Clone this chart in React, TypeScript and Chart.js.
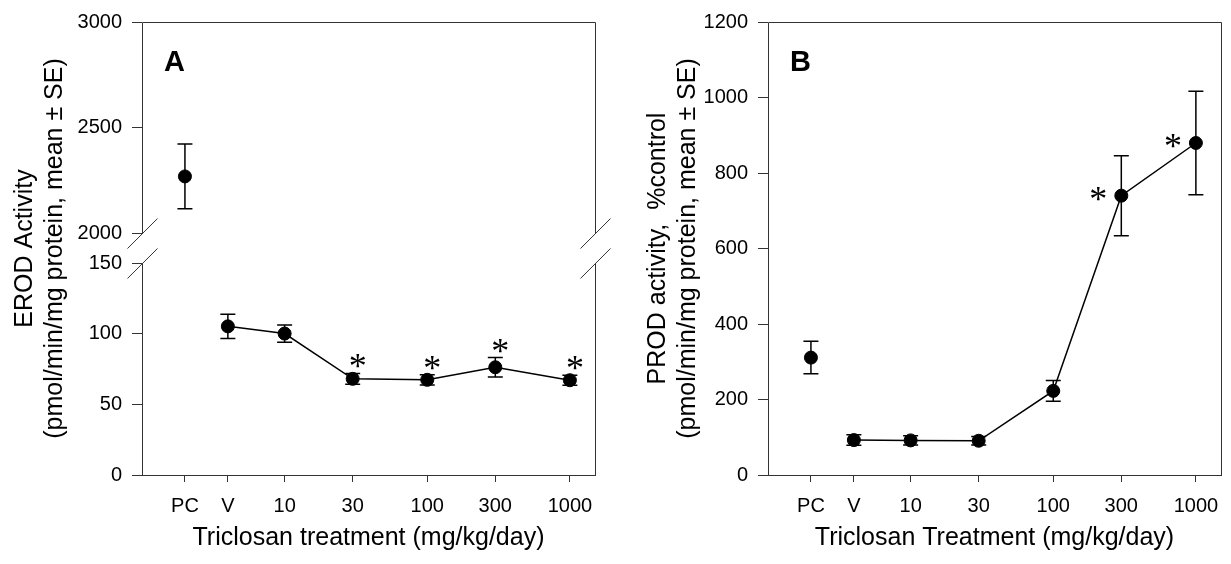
import React, { useEffect, useRef } from 'react';
import { Chart, registerables } from 'chart.js';

Chart.register(...registerables);

const FONT = "'Liberation Sans', Arial, Helvetica, sans-serif";
const STAR_FONT = "36px 'Liberation Serif', 'Times New Roman', serif";
const AXIS_COLOR = '#333';

// ---- data ----
const xTickValues = [2, 4, 10, 30, 100, 300, 1000];
const xTickLabels = ['PC', 'V', '10', '30', '100', '300', '1000'];
const doseX = [4, 10, 30, 100, 300, 1000];
const pcX = 2;

const erodPcMean = 2270;
const erodPcSe = 153;
const erodMean = [105.4, 100.3, 68.2, 67.5, 76.4, 67.2];
const erodSe = [8.6, 6.1, 3.8, 3.6, 6.9, 3.6];
const erodSig = [false, false, true, true, true, true];
const erodLowTicks = [0, 50, 100, 150];
const erodHighTicks = [2000, 2500, 3000];

const prodPcMean = 311;
const prodPcSe = 43;
const prodMean = [92.5, 91.7, 90.7, 222.8, 740, 879.5];
const prodSe = [14, 12.5, 11.5, 27.4, 106, 137];
const prodSig = [false, false, false, false, true, true];
const prodTicks = [0, 200, 400, 600, 800, 1000, 1200];

// ---- layout constants ----
const X_MIN = 1;
const X_MAX = 1500;
const X_AXIS_HEIGHT = 89;
const TOP_PAD = 21;
const BREAK_GAP_FRACTION = 15 / 212; // half-gap of the broken axis, as share of each segment
const CAP = 7.5;

function xScale() {
  return {
    type: 'logarithmic',
    position: 'bottom',
    min: X_MIN,
    max: X_MAX,
    afterBuildTicks: (s: any) => {
      s.ticks = xTickValues.map((v) => ({ value: v }));
    },
    afterFit: (s: any) => {
      s.height = X_AXIS_HEIGHT;
    },
    ticks: {
      callback: (v: any) => {
        const i = xTickValues.indexOf(Number(v));
        return i >= 0 ? xTickLabels[i] : '';
      },
      autoSkip: false,
      maxRotation: 0,
      padding: 12,
      color: '#000',
      font: { size: 20, family: FONT },
    },
    grid: { drawOnChartArea: false, tickLength: 7, color: AXIS_COLOR, lineWidth: 1 },
    border: { display: true, color: AXIS_COLOR, width: 1 },
  };
}

function yScale(min: number, max: number, ticks: number[], width: number, extra: any = {}) {
  return {
    type: 'linear',
    position: 'left',
    min,
    max,
    afterBuildTicks: (s: any) => {
      s.ticks = ticks.map((v) => ({ value: v }));
    },
    afterFit: (s: any) => {
      s.width = width;
    },
    ticks: {
      padding: 10,
      color: '#000',
      font: { size: 20, family: FONT },
      callback: (v: any) => String(v),
    },
    grid: { drawOnChartArea: false, tickLength: 10, color: AXIS_COLOR, lineWidth: 1 },
    border: { display: false },
    ...extra,
  };
}

type Cfg = {
  letter: string;
  yTitle: string[];
  yTitleOffsets: number[];
  xTitle: string;
  errors: { ds: number; se: number[] }[];
  stars: { ds: number; sig: boolean[]; se: number[]; mode: 'above' | 'left' };
  broken?: { lowId: string; highId: string; lowTop: number; highBottom: number };
};

function makeDecor(cfg: Cfg) {
  return {
    id: 'decor',
    beforeDatasetsDraw(chart: any) {
      const ctx = chart.ctx;
      const ca = chart.chartArea;
      ctx.save();
      // frame
      ctx.strokeStyle = AXIS_COLOR;
      ctx.lineWidth = 1;
      const L = Math.round(ca.left) + 0.5;
      const R = Math.round(ca.right) + 0.5;
      const T = Math.round(ca.top) + 0.5;
      const B = Math.round(ca.bottom) + 0.5;
      ctx.beginPath();
      ctx.moveTo(L, T);
      ctx.lineTo(R, T);
      if (cfg.broken) {
        const hi = chart.scales[cfg.broken.highId];
        const lo = chart.scales[cfg.broken.lowId];
        const yH = hi.getPixelForValue(cfg.broken.highBottom);
        const yL = lo.getPixelForValue(cfg.broken.lowTop);
        for (const x of [L, R]) {
          ctx.moveTo(x, T);
          ctx.lineTo(x, yH);
          ctx.moveTo(x, yL);
          ctx.lineTo(x, B);
          for (const y of [yH, yL]) {
            ctx.moveTo(x - 15, y + 15);
            ctx.lineTo(x + 15, y - 15);
          }
        }
      } else {
        ctx.moveTo(L, T);
        ctx.lineTo(L, B);
        ctx.moveTo(R, T);
        ctx.lineTo(R, B);
      }
      ctx.stroke();

      // error bars
      ctx.strokeStyle = '#000';
      ctx.lineWidth = 1.5;
      for (const e of cfg.errors) {
        const meta = chart.getDatasetMeta(e.ds);
        const ys = chart.scales[meta.yAxisID];
        const data = chart.data.datasets[e.ds].data as any[];
        meta.data.forEach((el: any, j: number) => {
          const v = data[j].y;
          const s = e.se[j];
          const yT = ys.getPixelForValue(v + s);
          const yB = ys.getPixelForValue(v - s);
          const x = el.x;
          ctx.beginPath();
          ctx.moveTo(x, yT);
          ctx.lineTo(x, yB);
          ctx.moveTo(x - CAP, yT);
          ctx.lineTo(x + CAP, yT);
          ctx.moveTo(x - CAP, yB);
          ctx.lineTo(x + CAP, yB);
          ctx.stroke();
        });
      }
      ctx.restore();
    },
    afterDraw(chart: any) {
      const ctx = chart.ctx;
      const ca = chart.chartArea;
      ctx.save();
      ctx.fillStyle = '#000';

      // panel letter
      ctx.font = `bold 29px ${FONT}`;
      ctx.textAlign = 'left';
      ctx.textBaseline = 'alphabetic';
      ctx.fillText(cfg.letter, ca.left + 22, ca.top + 49);

      // y title
      ctx.font = `25px ${FONT}`;
      const cy = (ca.top + ca.bottom) / 2;
      cfg.yTitle.forEach((line, i) => {
        ctx.save();
        ctx.translate(ca.left + cfg.yTitleOffsets[i], cy);
        ctx.rotate(-Math.PI / 2);
        ctx.textAlign = 'center';
        ctx.textBaseline = 'alphabetic';
        ctx.fillText(line, 0, 0);
        ctx.restore();
      });

      // x title
      ctx.textAlign = 'center';
      ctx.textBaseline = 'alphabetic';
      ctx.fillText(cfg.xTitle, (ca.left + ca.right) / 2, ca.bottom + 70);

      // significance asterisks
      const st = cfg.stars;
      const meta = chart.getDatasetMeta(st.ds);
      const ys = chart.scales[meta.yAxisID];
      const data = chart.data.datasets[st.ds].data as any[];
      ctx.font = STAR_FONT;
      ctx.textAlign = 'left';
      ctx.textBaseline = 'alphabetic';
      const m = ctx.measureText('*');
      meta.data.forEach((el: any, j: number) => {
        if (!st.sig[j]) return;
        let cx: number;
        let cyy: number;
        if (st.mode === 'above') {
          cx = el.x + 5;
          cyy = ys.getPixelForValue(data[j].y + st.se[j]) - 12;
        } else {
          cx = el.x - 23;
          cyy = el.y - 2;
        }
        const bx = cx - (m.actualBoundingBoxRight - m.actualBoundingBoxLeft) / 2;
        const by = cyy + (m.actualBoundingBoxAscent - m.actualBoundingBoxDescent) / 2;
        ctx.fillText('*', bx, by);
      });
      ctx.restore();
    },
  };
}

const pointStyle = {
  pointRadius: 6.5,
  pointHoverRadius: 6.5,
  pointBackgroundColor: '#000',
  pointBorderColor: '#000',
  pointBorderWidth: 1,
  borderColor: '#000',
  borderWidth: 1.5,
  backgroundColor: '#000',
};

function configA(): any {
  const lowMax = erodLowTicks[erodLowTicks.length - 1];
  const highMin = erodHighTicks[0];
  const highMax = erodHighTicks[erodHighTicks.length - 1];
  return {
    type: 'scatter',
    data: {
      datasets: [
        { data: [{ x: pcX, y: erodPcMean }], yAxisID: 'yHigh', showLine: false, ...pointStyle },
        { data: doseX.map((x, i) => ({ x, y: erodMean[i] })), yAxisID: 'yLow', showLine: true, ...pointStyle },
      ],
    },
    options: {
      responsive: false,
      animation: false,
      events: [],
      layout: { padding: { top: TOP_PAD, right: 20, bottom: 0, left: 0 }, autoPadding: false },
      plugins: { legend: { display: false }, tooltip: { enabled: false } },
      scales: {
        x: xScale(),
        yLow: yScale(0, lowMax * (1 + BREAK_GAP_FRACTION), erodLowTicks, 142, { stack: 'erod', stackWeight: 1, weight: 0 }),
        yHigh: yScale(highMin - (highMax - highMin) * BREAK_GAP_FRACTION, highMax, erodHighTicks, 142, {
          stack: 'erod',
          stackWeight: 1,
          weight: 1,
        }),
      },
    },
    plugins: [
      makeDecor({
        letter: 'A',
        yTitle: ['EROD Activity', '(pmol/min/mg protein, mean ± SE)'],
        yTitleOffsets: [-110.5, -80.5],
        xTitle: 'Triclosan treatment (mg/kg/day)',
        errors: [
          { ds: 0, se: [erodPcSe] },
          { ds: 1, se: erodSe },
        ],
        stars: { ds: 1, sig: erodSig, se: erodSe, mode: 'above' },
        broken: { lowId: 'yLow', highId: 'yHigh', lowTop: lowMax, highBottom: highMin },
      }),
    ],
  };
}

function configB(): any {
  return {
    type: 'scatter',
    data: {
      datasets: [
        { data: [{ x: pcX, y: prodPcMean }], yAxisID: 'y', showLine: false, ...pointStyle },
        { data: doseX.map((x, i) => ({ x, y: prodMean[i] })), yAxisID: 'y', showLine: true, ...pointStyle },
      ],
    },
    options: {
      responsive: false,
      animation: false,
      events: [],
      layout: { padding: { top: TOP_PAD, right: 10, bottom: 0, left: 0 }, autoPadding: false },
      plugins: { legend: { display: false }, tooltip: { enabled: false } },
      scales: {
        x: xScale(),
        y: yScale(prodTicks[0], prodTicks[prodTicks.length - 1], prodTicks, 153),
      },
    },
    plugins: [
      makeDecor({
        letter: 'B',
        yTitle: ['PROD activity,  %control', '(pmol/min/mg protein, mean ± SE)'],
        yTitleOffsets: [-103, -73],
        xTitle: 'Triclosan Treatment (mg/kg/day)',
        errors: [
          { ds: 0, se: [prodPcSe] },
          { ds: 1, se: prodSe },
        ],
        stars: { ds: 1, sig: prodSig, se: prodSe, mode: 'left' },
      }),
    ],
  };
}

export default function App() {
  const refA = useRef<HTMLCanvasElement>(null);
  const refB = useRef<HTMLCanvasElement>(null);
  useEffect(() => {
    Chart.defaults.font.family = FONT;
    Chart.defaults.color = '#000';
    const a = new Chart(refA.current as HTMLCanvasElement, configA());
    const b = new Chart(refB.current as HTMLCanvasElement, configB());
    return () => {
      a.destroy();
      b.destroy();
    };
  }, []);
  return (
    <div style={{ position: 'absolute', left: 0, top: 0, width: 1231, height: 564, background: '#fff', overflow: 'hidden' }}>
      <canvas ref={refA} width={615} height={564} style={{ position: 'absolute', left: 0, top: 0 }} />
      <canvas ref={refB} width={616} height={564} style={{ position: 'absolute', left: 615, top: 0 }} />
    </div>
  );
}
